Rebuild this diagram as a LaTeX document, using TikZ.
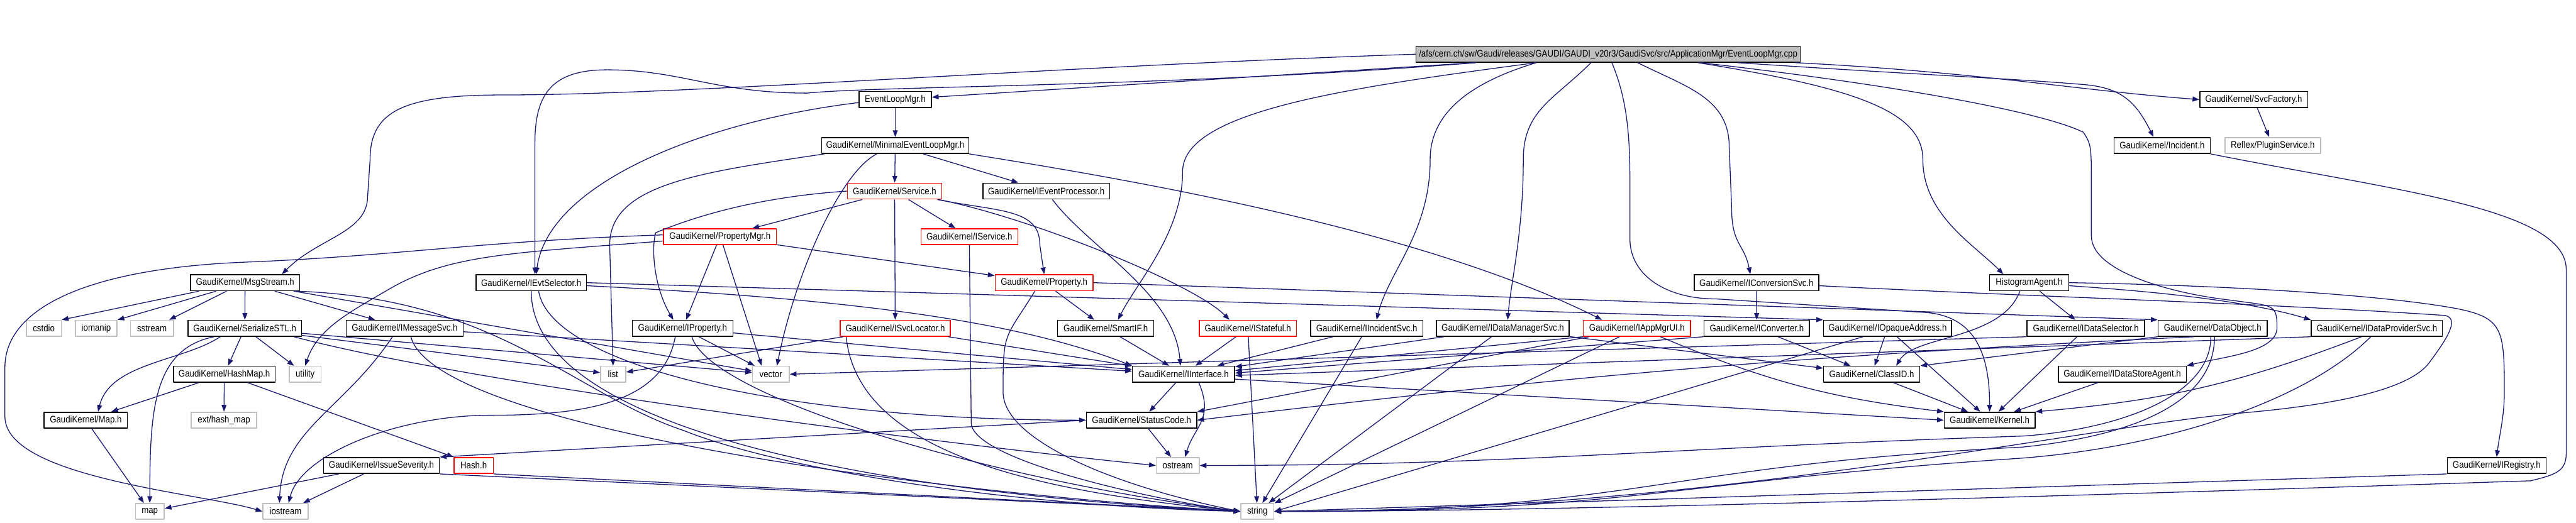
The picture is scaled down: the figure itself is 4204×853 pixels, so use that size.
\documentclass[tikz,border=0pt]{standalone}
\usepackage{fontspec}
\usepackage{tikz}
\usetikzlibrary{arrows.meta}
\newfontfamily\graphfont[FakeStretch=0.88]{Liberation Sans}
\definecolor{edgeblue}{HTML}{191970}
\definecolor{srcgray}{HTML}{BFBFBF}

\begin{document}
\begin{tikzpicture}[x=0.01cm,y=-0.01cm,line join=round,
  hdr/.style={draw=black,line width=0.45pt,minimum height=0.26cm,inner sep=0pt,font=\graphfont\fontsize{4.4}{5}\selectfont},
  redhdr/.style={hdr,draw=red},
  syshdr/.style={hdr,draw=srcgray},
  srchdr/.style={hdr,fill=srcgray},
  wd/.style={minimum width=#1*0.01cm},
  dep/.style={draw=edgeblue,line width=0.38pt,-{Triangle[length=0.11cm,width=0.08cm]}}]
  \useasboundingbox (0,0) rectangle (4204,853);
  \node[srchdr,wd=627] (main) at (2624.5,88.5) {/afs/cern.ch/sw/Gaudi/releases/GAUDI/GAUDI\_v20r3/GaudiSvc/src/ApplicationMgr/EventLoopMgr.cpp};
  \node[hdr,wd=118] (evl) at (1461,162.5) {EventLoopMgr.h};
  \node[hdr,wd=176] (svcfac) at (3678,162.5) {GaudiKernel/SvcFactory.h};
  \node[hdr,wd=240] (minevl) at (1461,237.5) {GaudiKernel/MinimalEventLoopMgr.h};
  \node[hdr,wd=157] (incident) at (3528.5,237.5) {GaudiKernel/Incident.h};
  \node[syshdr,wd=156] (plugin) at (3709,237.5) {Reflex/PluginService.h};
  \node[redhdr,wd=154] (service) at (1460,312) {GaudiKernel/Service.h};
  \node[hdr,wd=207] (ievproc) at (1707.5,312) {GaudiKernel/IEventProcessor.h};
  \node[redhdr,wd=184] (propmgr) at (1175,386.5) {GaudiKernel/PropertyMgr.h};
  \node[redhdr,wd=158] (iservice) at (1582,386.5) {GaudiKernel/IService.h};
  \node[hdr,wd=178] (msg) at (400,461.5) {GaudiKernel/MsgStream.h};
  \node[hdr,wd=180] (evtsel) at (867,461.5) {GaudiKernel/IEvtSelector.h};
  \node[redhdr,wd=160] (property) at (1704,461.5) {GaudiKernel/Property.h};
  \node[hdr,wd=203] (convsvc) at (2866.5,461.5) {GaudiKernel/IConversionSvc.h};
  \node[hdr,wd=129] (histo) at (3311.5,461.5) {HistogramAgent.h};
  \node[syshdr,wd=57] (cstdio) at (71.5,536) {cstdio};
  \node[syshdr,wd=68] (iomanip) at (157,536) {iomanip};
  \node[syshdr,wd=70] (sstream) at (248,536) {sstream};
  \node[hdr,wd=185] (serial) at (399.5,536) {GaudiKernel/SerializeSTL.h};
  \node[hdr,wd=191] (imsgsvc) at (660.5,536) {GaudiKernel/IMessageSvc.h};
  \node[hdr,wd=164] (iprop) at (1114,536) {GaudiKernel/IProperty.h};
  \node[redhdr,wd=180] (svcloc) at (1461,536) {GaudiKernel/ISvcLocator.h};
  \node[hdr,wd=157] (smartif) at (1804.5,536) {GaudiKernel/SmartIF.h};
  \node[redhdr,wd=159] (istateful) at (2036.5,536) {GaudiKernel/IStateful.h};
  \node[hdr,wd=183] (incsvc) at (2230.5,536) {GaudiKernel/IIncidentSvc.h};
  \node[hdr,wd=217] (dmsvc) at (2452.5,536) {GaudiKernel/IDataManagerSvc.h};
  \node[redhdr,wd=175] (appmgr) at (2671.5,536) {GaudiKernel/IAppMgrUI.h};
  \node[hdr,wd=172] (iconv) at (2867,536) {GaudiKernel/IConverter.h};
  \node[hdr,wd=209] (iopaque) at (3080.5,536) {GaudiKernel/IOpaqueAddress.h};
  \node[hdr,wd=192] (idatasel) at (3404,536) {GaudiKernel/IDataSelector.h};
  \node[hdr,wd=178] (dataobj) at (3611,536) {GaudiKernel/DataObject.h};
  \node[hdr,wd=214] (idataprov) at (3879,536) {GaudiKernel/IDataProviderSvc.h};
  \node[hdr,wd=166] (hashmap) at (366,611) {GaudiKernel/HashMap.h};
  \node[syshdr,wd=52] (utility) at (498,611) {utility};
  \node[syshdr,wd=41] (list) at (1000.5,611) {list};
  \node[syshdr,wd=60] (vector) at (1258,611) {vector};
  \node[hdr,wd=167] (iinterface) at (1931.5,611) {GaudiKernel/IInterface.h};
  \node[hdr,wd=157] (classid) at (3054.5,611) {GaudiKernel/ClassID.h};
  \node[hdr,wd=209] (dsagent) at (3463.5,611) {GaudiKernel/IDataStoreAgent.h};
  \node[hdr,wd=136] (mapH) at (140,686) {GaudiKernel/Map.h};
  \node[syshdr,wd=107] (hashext) at (365.5,686) {ext/hash\_map};
  \node[hdr,wd=180] (statuscode) at (1863,686) {GaudiKernel/StatusCode.h};
  \node[hdr,wd=148] (kernel) at (3247,686) {GaudiKernel/Kernel.h};
  \node[hdr,wd=189] (issue) at (622.5,760) {GaudiKernel/IssueSeverity.h};
  \node[redhdr,wd=64] (hash) at (773,760) {Hash.h};
  \node[syshdr,wd=70] (ostream) at (1922,760) {ostream};
  \node[hdr,wd=161] (iregistry) at (4074.5,760) {GaudiKernel/IRegistry.h};
  \node[syshdr,wd=47] (map) at (244.5,835) {map};
  \node[syshdr,wd=74] (iostream) at (466,835) {iostream};
  \node[syshdr,wd=54] (string) at (2052,835) {string};
  \draw[dep] (main) -- (evl);
  \draw[dep] (main.west) .. controls +(-600,20) and +(300,0) .. (821,155) .. controls +(-160,0) and +(0,-80) .. (604,260) -- (600,320) .. controls +(0,60) and +(60,-60) .. ([xshift=0.6cm]msg.north);
  \draw[dep] ([xshift=-2.15cm]main.south) .. controls +(-500,40) and +(120,-12) .. (1317,152) .. controls +(-150,0) and +(120,0) .. (991,114) .. controls +(-90,0) and +(0,-80) .. (873,233) -- ([xshift=0.06cm]evtsel.north);
  \draw[dep] ([yshift=-0.05cm]evl.west) .. controls +(-250,30) and +(20,-150) .. ([xshift=0.08cm]evtsel.north);
  \draw[dep] ([xshift=-1.17cm]main.south) .. controls +(-300,40) and +(0,-100) .. (1930,280) .. controls +(0,100) and +(30,-60) .. ([xshift=0.2cm]smartif.north);
  \draw[dep] ([xshift=-1.17cm]main.south) .. controls +(-100,30) and +(0,-80) .. (2334,260) .. controls +(0,120) and +(20,-80) .. ([xshift=0.16cm]incsvc.north);
  \draw[dep] ([xshift=-0.28cm]main.south) .. controls +(-60,60) and +(0,-80) .. (2486,260) .. controls +(0,120) and +(5,-60) .. ([xshift=0.08cm]dmsvc.north);
  \draw[dep] ([xshift=0.06cm]main.south) .. controls +(25,60) and +(0,-80) .. (2660,300) -- (2660,390) .. controls +(0,60) and +(-80,0) .. (2800,488) -- (3140,510) .. controls +(80,5) and +(0,-100) .. (kernel.north);
  \draw[dep] ([xshift=0.48cm]main.south) .. controls +(80,40) and +(0,-80) .. (2822,240) -- (2826,340) .. controls +(0,60) and +(-10,-50) .. ([xshift=-0.1cm]convsvc.north);
  \draw[dep] ([xshift=1.46cm]main.south) .. controls +(250,40) and +(0,-80) .. (3138,260) .. controls +(0,90) and +(-50,-50) .. ([xshift=-0.42cm]histo.north);
  \draw[dep] ([xshift=1.5cm]main.south) .. controls +(350,40) and +(-60,-30) .. (3400,216) .. controls +(13,20) and +(0,-60) .. (3413,300) -- (3413,385) .. controls +(0,60) and +(-90,-10) .. (3640,490) .. controls +(70,10) and +(0,-40) .. (3716,535) .. controls +(0,40) and +(60,-15) .. (dsagent.north east);
  \draw[dep] ([xshift=2.1cm]main.south) .. controls +(300,20) and +(-120,-10) .. (3400,138) .. controls +(60,5) and +(-30,-60) .. ([xshift=-0.14cm]incident.north);
  \draw[dep] ([xshift=-0.1cm]main.south east) .. controls +(300,15) and +(-200,-15) .. (svcfac.west);
  \draw[dep] (evl) -- (minevl);
  \draw[dep] (svcfac) -- (plugin);
  \draw[dep] (incident.south east) .. controls +(300,60) and +(0,-100) .. (4188,440) -- (4188,740) .. controls +(0,30) and +(40,-10) .. (4130,785) .. controls +(-600,20) and +(500,0) .. (string.east);
  \draw[dep] (minevl) -- (service);
  \draw[dep] (minevl) -- (ievproc);
  \draw[dep] ([xshift=0.05cm]minevl.south west) .. controls +(-200,30) and +(0,-100) .. (995,400) -- (list.north);
  \draw[dep] ([xshift=-0.3cm]minevl.south) .. controls +(-60,30) and +(30,-150) .. ([xshift=0.1cm]vector.north);
  \draw[dep] (minevl.south east) .. controls +(250,40) and +(-300,-150) .. ([xshift=-0.57cm]appmgr.north);
  \draw[dep] (service) -- (propmgr);
  \draw[dep] (service) -- (iservice);
  \draw[dep] (service.west) .. controls +(-150,10) and +(60,-25) .. (1070,380) .. controls +(-8,30) and +(-30,-50) .. ([xshift=-0.15cm]iprop.north);
  \draw[dep] (service) -- (svcloc);
  \draw[dep] ([xshift=-0.08cm]service.south east) .. controls +(100,20) and +(0,-60) .. (1697,400) -- (property.north);
  \draw[dep] ([xshift=-0.06cm]service.south east) .. controls +(150,30) and +(-60,-60) .. ([xshift=-0.3cm]istateful.north);
  \draw[dep] ([xshift=0.1cm]ievproc.south) .. controls +(60,80) and +(-10,-120) .. ([xshift=-0.05cm]iinterface.north);
  \draw[dep] (propmgr) -- (property);
  \draw[dep] (propmgr) -- (iprop);
  \draw[dep] ([xshift=0.05cm]propmgr.south) -- ([xshift=-0.15cm]vector.north);
  \draw[dep] ([yshift=-0.07cm]propmgr.west) .. controls +(-250,20) and +(100,-60) .. (630,475) .. controls +(-60,35) and +(20,-60) .. (utility.north);
  \draw[dep] ([yshift=0.03cm]propmgr.west) .. controls +(-300,10) and +(250,-10) .. (400,428) .. controls +(-250,10) and +(0,-100) .. (8,600) -- (8,680) .. controls +(0,100) and +(-100,-30) .. (iostream.west);
  \draw[dep] (iservice.south) -- (1585,690) .. controls +(0,60) and +(-150,-20) .. (string.west);
  \draw[dep] ([xshift=-0.75cm]msg.south) -- (cstdio.north east);
  \draw[dep] ([xshift=-0.47cm]msg.south) -- (iomanip.north east);
  \draw[dep] ([xshift=-0.3cm]msg.south) -- ([xshift=0.28cm]sstream.north);
  \draw[dep] (msg) -- (serial);
  \draw[dep] (msg) -- (imsgsvc);
  \draw[dep] (msg) -- (vector);
  \draw[dep] ([xshift=-0.1cm]msg.south east) .. controls +(330,10) and +(-180,-60) .. (1116,703) .. controls +(150,60) and +(-400,-10) .. (string.west);
  \draw[dep] ([xshift=-0.4cm]serial.south) .. controls +(-60,40) and +(20,-80) .. ([xshift=0.2cm]mapH.north);
  \draw[dep] ([xshift=-0.5cm]serial.south) .. controls +(-100,20) and +(0,-150) .. (map.north);
  \draw[dep] (serial) -- (hashmap);
  \draw[dep] (serial) -- (utility);
  \draw[dep] (serial) -- (list);
  \draw[dep] (serial) -- (vector);
  \draw[dep] ([xshift=0.8cm]serial.south) .. controls +(300,80) and +(-300,-30) .. (ostream.west);
  \draw[dep] (imsgsvc) -- (iinterface);
  \draw[dep] ([xshift=-0.2cm]imsgsvc.south) .. controls +(-80,120) and +(5,-120) .. ([xshift=-0.1cm]iostream.north);
  \draw[dep] ([xshift=0.1cm]imsgsvc.south) .. controls +(40,150) and +(-500,-30) .. (string.west);
  \draw[dep] ([yshift=-0.05cm]evtsel.east) .. controls +(400,20) and +(-200,-78) .. (iinterface.north west);
  \draw[dep] (evtsel.east) -- (iopaque.north west);
  \draw[dep] ([xshift=0.12cm]evtsel.south) .. controls +(20,120) and +(-500,0) .. (statuscode.west);
  \draw[dep] (evtsel.south) .. controls +(0,225) and +(-600,-30) .. (string.west);
  \draw[dep] (property) -- (smartif);
  \draw[dep] ([xshift=-0.15cm]property.south) .. controls +(-50,80) and +(0,-100) .. (1637,640) .. controls +(0,80) and +(-200,-40) .. (string.west);
  \draw[dep] (property.east) -- (dataobj.north west);
  \draw[dep] (iprop) -- (iinterface);
  \draw[dep] (iprop) -- (vector);
  \draw[dep] ([xshift=0.15cm]iprop.south) .. controls +(30,100) and +(-400,-50) .. (string.west);
  \draw[dep] ([xshift=-0.12cm]iprop.south) .. controls +(-20,110) and +(150,0) .. (800,678) .. controls +(-150,0) and +(20,-80) .. ([xshift=0.05cm]iostream.north);
  \draw[dep] (svcloc) -- (list);
  \draw[dep] (svcloc) -- (iinterface);
  \draw[dep] ([xshift=-0.8cm]svcloc.south) .. controls +(20,200) and +(-300,-30) .. (string.west);
  \draw[dep] (smartif) -- (iinterface);
  \draw[dep] (istateful) -- (iinterface);
  \draw[dep] (istateful) -- (string);
  \draw[dep] (incsvc) -- (iinterface);
  \draw[dep] (incsvc) -- (string);
  \draw[dep] (dmsvc) -- (iinterface);
  \draw[dep] (dmsvc) -- (string);
  \draw[dep] (dmsvc) -- (classid);
  \draw[dep] (appmgr.south west) -- ([yshift=0.06cm]iinterface.east);
  \draw[dep] ([xshift=0.1cm]appmgr.south west) -- (statuscode.north east);
  \draw[dep] (appmgr) -- (string);
  \draw[dep] ([xshift=-0.5cm]appmgr.south east) to[bend right=8] (kernel.north west);
  \draw[dep] (convsvc) -- (iconv);
  \draw[dep] ([yshift=-0.05cm]convsvc.east) .. controls +(400,20) and +(-300,-20) .. (3990,515) .. controls +(25,5) and +(30,-40) .. (3963,594) .. controls +(-40,50) and +(120,-10) .. (3650,675) .. controls +(-300,30) and +(700,0) .. (string.east);
  \draw[dep] (iconv) -- (classid);
  \draw[dep] (iconv.south west) -- ([yshift=0.02cm]iinterface.east);
  \draw[dep] (iopaque) -- (classid);
  \draw[dep] (iopaque) -- (kernel);
  \draw[dep] ([xshift=-0.4cm]iopaque.south) -- (string.east);
  \draw[dep] (idatasel.south west) -- (vector.east);
  \draw[dep] (idatasel) -- (kernel);
  \draw[dep] (dataobj.south west) -- (classid.north east);
  \draw[dep] ([xshift=-0.3cm]dataobj.south) to[bend right=2] (statuscode.east);
  \draw[dep] ([xshift=-0.03cm]dataobj.south) .. controls +(0,100) and +(150,-10) .. (3300,712) .. controls +(-600,20) and +(500,0) .. (ostream.east);
  \draw[dep] ([xshift=0.03cm]dataobj.south) .. controls +(0,120) and +(150,-15) .. (3300,730) .. controls +(-600,30) and +(600,0) .. (string.east);
  \draw[dep] (idataprov.south west) -- ([yshift=-0.02cm]iinterface.east);
  \draw[dep] ([xshift=-0.25cm]idataprov.south) to[bend left=8] (kernel.north east);
  \draw[dep] ([xshift=-0.1cm]idataprov.south) .. controls +(-100,100) and +(250,-20) .. (3300,748) .. controls +(-600,40) and +(600,0) .. (string.east);
  \draw[dep] ([xshift=-0.15cm]histo.south) .. controls +(-30,80) and +(30,-50) .. ([xshift=0.4cm]classid.north);
  \draw[dep] (histo) -- (idatasel);
  \draw[dep] ([yshift=-0.05cm]histo.east) .. controls +(150,10) and +(-100,-30) .. (idataprov.north west);
  \draw[dep] (histo.east) .. controls +(300,5) and +(-100,-20) .. (4015,505) .. controls +(70,15) and +(0,-100) .. (4087,640) .. controls +(0,40) and +(5,-40) .. (iregistry.north);
  \draw[dep] (classid) -- (kernel);
  \draw[dep] (dsagent) -- (kernel);
  \draw[dep] ([yshift=-0.08cm]iinterface.east) -- (kernel.west);
  \draw[dep] (iinterface) -- (statuscode);
  \draw[dep] ([xshift=0.25cm]iinterface.south) .. controls +(25,60) and +(15,-50) .. ([xshift=0.12cm]ostream.north);
  \draw[dep] (statuscode) -- (ostream);
  \draw[dep] (statuscode.west) -- (issue.north east);
  \draw[dep] (hashmap) -- (mapH);
  \draw[dep] (hashmap) -- (hashext);
  \draw[dep] (hashmap) -- (hash.north west);
  \draw[dep] (mapH) -- (map);
  \draw[dep] (issue) -- (map);
  \draw[dep] (issue) -- (iostream);
  \draw[dep] (issue.south east) -- (string.west);
  \draw[dep] (hash.south east) -- (string.west);
  \draw[dep] (iregistry.south west) -- (string.east);
\end{tikzpicture}
\end{document}
